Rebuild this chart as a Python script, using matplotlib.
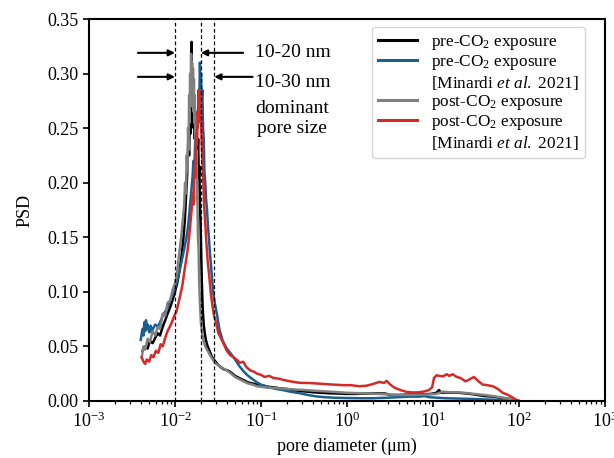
import matplotlib
matplotlib.use("Agg")
import matplotlib.pyplot as plt
from matplotlib.lines import Line2D

plt.rcParams['font.family'] = ['Liberation Serif', 'DejaVu Serif']
plt.rcParams['mathtext.fontset'] = 'custom'
plt.rcParams['mathtext.rm'] = 'Liberation Serif'
plt.rcParams['mathtext.it'] = 'Liberation Serif:italic'
plt.rcParams['mathtext.bf'] = 'Liberation Serif:bold'
plt.rcParams['axes.unicode_minus'] = False

# pre-CO2 exposure (this work)
pre_d = [0.0042, 0.0045, 0.0048, 0.0051, 0.0055, 0.0059, 0.0063, 0.0067, 0.0072, 0.0077,
         0.0082, 0.0088, 0.0094, 0.0100, 0.0106, 0.0112, 0.0118, 0.0124, 0.0130, 0.0135,
         0.0140, 0.0143, 0.0146, 0.0149, 0.0151, 0.0153, 0.0155, 0.0156, 0.0157, 0.0159,
         0.0161, 0.0163, 0.0165, 0.0167, 0.0170, 0.0173, 0.0176, 0.0179, 0.0182, 0.0186,
         0.0189, 0.0192, 0.0195, 0.0198, 0.0201, 0.0205, 0.0210, 0.0216, 0.0222, 0.0230,
         0.0240, 0.0255, 0.027, 0.029, 0.031, 0.034, 0.037, 0.041, 0.045, 0.050,
         0.056, 0.063, 0.071, 0.080, 0.090, 0.10, 0.12, 0.14, 0.17, 0.20,
         0.25, 0.30, 0.40, 0.50, 0.65, 0.80, 1.0, 1.3, 1.7, 2.2,
         2.8, 3.2, 4.0, 5.0, 6.5, 8.0, 9.5, 11.0, 11.8, 12.4,
         14, 17, 20, 25, 30, 40, 50, 60, 75, 90, 100]
pre_psd = [0.046, 0.050, 0.048, 0.055, 0.053, 0.058, 0.062, 0.060, 0.068, 0.074,
           0.080, 0.086, 0.093, 0.100, 0.108, 0.118, 0.130, 0.145, 0.165, 0.190,
           0.215, 0.240, 0.225, 0.265, 0.245, 0.290, 0.260, 0.329, 0.275, 0.290,
           0.255, 0.285, 0.250, 0.275, 0.240, 0.265, 0.230, 0.250, 0.225, 0.240,
           0.205, 0.215, 0.180, 0.165, 0.140, 0.110, 0.085, 0.070, 0.062, 0.055,
           0.050, 0.045, 0.040, 0.037, 0.034, 0.031, 0.029, 0.028, 0.026, 0.023,
           0.021, 0.019, 0.017, 0.016, 0.015, 0.0145, 0.013, 0.0125, 0.0115, 0.011,
           0.0095, 0.009, 0.008, 0.0075, 0.007, 0.0068, 0.0065, 0.0065, 0.0068, 0.007,
           0.0068, 0.0055, 0.0055, 0.0058, 0.006, 0.0062, 0.0065, 0.0075, 0.010, 0.0075,
           0.0078, 0.0076, 0.0075, 0.0068, 0.006, 0.0045, 0.004, 0.003, 0.002, 0.001, 0.0]

# pre-CO2 exposure [Minardi et al. 2021]
pre_min_d = [0.0040, 0.0041, 0.0042, 0.0043, 0.0044, 0.0045, 0.0046, 0.0047, 0.0048, 0.0050,
             0.0052, 0.0054, 0.0056, 0.0059, 0.0063, 0.0067, 0.0072, 0.0077, 0.0082, 0.0088,
             0.0094, 0.0100, 0.0106, 0.0112, 0.0118, 0.0124, 0.0130, 0.0136, 0.0142, 0.0148,
             0.0154, 0.0160, 0.0164, 0.0168, 0.0172, 0.0176, 0.0180, 0.0184, 0.0188, 0.0192,
             0.0195, 0.0198, 0.0201, 0.0204, 0.0208, 0.0212, 0.0216, 0.0220, 0.0225, 0.0230,
             0.0236, 0.0242, 0.0248, 0.0255, 0.0262, 0.0270, 0.0278, 0.029, 0.031, 0.033,
             0.036, 0.040, 0.045, 0.050, 0.056, 0.063, 0.071, 0.080, 0.090, 0.10,
             0.12, 0.15, 0.18, 0.22, 0.28, 0.35, 0.44, 0.55, 0.70, 1.0,
             1.5, 2.0, 3.0, 4.0, 5.5, 7.0, 8.0, 9.0, 11, 14,
             20, 30, 50, 75, 100]
pre_min_psd = [0.056, 0.062, 0.066, 0.060, 0.072, 0.064, 0.074, 0.066, 0.070, 0.063,
               0.069, 0.062, 0.067, 0.070, 0.068, 0.072, 0.078, 0.082, 0.086, 0.092,
               0.098, 0.104, 0.110, 0.118, 0.126, 0.134, 0.142, 0.150, 0.160, 0.175,
               0.190, 0.205, 0.220, 0.212, 0.240, 0.232, 0.260, 0.250, 0.285, 0.275,
               0.310, 0.290, 0.300, 0.275, 0.285, 0.250, 0.240, 0.210, 0.200, 0.185,
               0.175, 0.160, 0.150, 0.135, 0.125, 0.112, 0.100, 0.090, 0.078, 0.065,
               0.055, 0.048, 0.043, 0.038, 0.032, 0.027, 0.023, 0.020, 0.017, 0.015,
               0.013, 0.011, 0.010, 0.0085, 0.0072, 0.0055, 0.0042, 0.0035, 0.003, 0.0027,
               0.0025, 0.0025, 0.003, 0.0035, 0.004, 0.004, 0.0045, 0.0035, 0.003, 0.0025,
               0.0022, 0.0018, 0.0012, 0.0006, 0.0]

# post-CO2 exposure (this work)
post_d = [0.0041, 0.0043, 0.0045, 0.0048, 0.0051, 0.0055, 0.0059, 0.0063, 0.0067, 0.0072,
          0.0077, 0.0082, 0.0088, 0.0094, 0.0100, 0.0106, 0.0112, 0.0118, 0.0124, 0.0128,
          0.0131, 0.0134, 0.0137, 0.0140, 0.0142, 0.0144, 0.0146, 0.0148, 0.0150, 0.0152,
          0.0154, 0.0156, 0.0158, 0.0160, 0.0162, 0.0164, 0.0166, 0.0168, 0.0170, 0.0172,
          0.0174, 0.0176, 0.0178, 0.0180, 0.0182, 0.0185, 0.0188, 0.0191, 0.0195, 0.0200,
          0.0207, 0.0215, 0.0225, 0.0240, 0.026, 0.028, 0.030, 0.033, 0.036, 0.040,
          0.045, 0.050, 0.056, 0.063, 0.071, 0.080, 0.090, 0.10, 0.12, 0.14,
          0.17, 0.20, 0.25, 0.30, 0.40, 0.50, 0.65, 0.80, 1.0, 1.5,
          2.0, 3.0, 4.0, 5.5, 7.0, 9.0, 11, 13, 16, 20,
          25, 30, 40, 50, 60, 75, 90, 100]
post_psd = [0.040, 0.050, 0.047, 0.057, 0.054, 0.064, 0.060, 0.068, 0.066, 0.080,
            0.078, 0.090, 0.092, 0.102, 0.108, 0.118, 0.135, 0.150, 0.168, 0.180,
            0.200, 0.190, 0.225, 0.210, 0.250, 0.230, 0.280, 0.255, 0.300, 0.270,
            0.318, 0.285, 0.310, 0.275, 0.305, 0.265, 0.295, 0.255, 0.280, 0.240,
            0.260, 0.215, 0.230, 0.185, 0.190, 0.150, 0.140, 0.110, 0.090, 0.072,
            0.062, 0.055, 0.050, 0.046, 0.041, 0.037, 0.034, 0.032, 0.030, 0.028,
            0.025, 0.022, 0.020, 0.018, 0.016, 0.015, 0.0135, 0.013, 0.012, 0.012,
            0.0115, 0.011, 0.0105, 0.0102, 0.0095, 0.009, 0.0085, 0.008, 0.0075, 0.007,
            0.0068, 0.006, 0.0055, 0.0055, 0.0058, 0.006, 0.0065, 0.0085, 0.008, 0.0078,
            0.0072, 0.0065, 0.0055, 0.0045, 0.0035, 0.0022, 0.001, 0.0]

# post-CO2 exposure [Minardi et al. 2021]
post_min_d = [0.0041, 0.0043, 0.0045, 0.0047, 0.0050, 0.0053, 0.0056, 0.0060, 0.0064, 0.0068,
              0.0072, 0.0077, 0.0082, 0.0087, 0.0092, 0.0098, 0.0104, 0.0110, 0.0116, 0.0122,
              0.0128, 0.0134, 0.0140, 0.0146, 0.0152, 0.0156, 0.0160, 0.0164, 0.0168, 0.0172,
              0.0176, 0.0180, 0.0184, 0.0188, 0.0191, 0.0194, 0.0197, 0.0201, 0.0206, 0.0210,
              0.0214, 0.0218, 0.0224, 0.0232, 0.0240, 0.0250, 0.0260, 0.0272, 0.0285, 0.030,
              0.032, 0.034, 0.037, 0.040, 0.044, 0.048, 0.052, 0.057, 0.062, 0.068,
              0.075, 0.082, 0.090, 0.10, 0.11, 0.125, 0.14, 0.16, 0.19, 0.22,
              0.26, 0.30, 0.36, 0.45, 0.55, 0.70, 0.90, 1.1, 1.4, 1.7,
              2.0, 2.4, 2.7, 2.9, 3.2, 3.6, 4.2, 5.0, 6.0, 7.0,
              8.0, 9.0, 9.8, 10.3, 11.0, 12.0, 13.0, 14.5, 15.5, 17.0,
              19, 21, 24, 27, 30, 34, 38, 43, 50, 57,
              65, 75, 85, 95, 100]
post_min_psd = [0.040, 0.036, 0.034, 0.038, 0.036, 0.042, 0.040, 0.046, 0.044, 0.052,
                0.050, 0.058, 0.064, 0.068, 0.072, 0.078, 0.082, 0.090, 0.098, 0.106,
                0.118, 0.128, 0.138, 0.150, 0.165, 0.175, 0.190, 0.180, 0.215, 0.205,
                0.245, 0.235, 0.265, 0.255, 0.285, 0.270, 0.280, 0.255, 0.230, 0.215,
                0.200, 0.180, 0.165, 0.145, 0.128, 0.115, 0.100, 0.088, 0.078, 0.072,
                0.062, 0.058, 0.052, 0.046, 0.042, 0.040, 0.038, 0.035, 0.036, 0.031,
                0.028, 0.027, 0.025, 0.024, 0.022, 0.023, 0.021, 0.0205, 0.019, 0.018,
                0.017, 0.0165, 0.0165, 0.016, 0.0155, 0.015, 0.0145, 0.0145, 0.0135, 0.014,
                0.0155, 0.0175, 0.0165, 0.0185, 0.015, 0.012, 0.010, 0.0082, 0.0078, 0.008,
                0.0088, 0.0100, 0.0125, 0.021, 0.0235, 0.023, 0.0225, 0.0245, 0.023, 0.0245,
                0.022, 0.021, 0.018, 0.020, 0.022, 0.018, 0.015, 0.0145, 0.0135, 0.011,
                0.0075, 0.0055, 0.003, 0.0008, 0.0]

dominant_bounds = [0.01, 0.02, 0.0286]

fig = plt.figure(figsize=(6.14, 4.58), dpi=100)
ax = fig.add_axes([0.145, 0.1245, 0.840, 0.834])

ax.plot(pre_d, pre_psd, color='black', lw=1.8)
ax.plot(pre_min_d, pre_min_psd, color='#1b5f8f', lw=1.8)
ax.plot(post_d, post_psd, color='#808080', lw=1.8)
ax.plot(post_min_d, post_min_psd, color='#d42a2a', lw=1.8)

for b in dominant_bounds:
    ax.axvline(b, color='black', lw=0.9, ls=(0, (3, 2)))

# arrows marking the dominant pore size range
arrow = dict(arrowstyle='-|>', color='black', lw=1.5, mutation_scale=9, shrinkA=0, shrinkB=0)
ax.annotate('', xy=(0.01, 0.319), xytext=(0.0037, 0.319), arrowprops=arrow)
ax.annotate('', xy=(0.02, 0.319), xytext=(0.062, 0.319), arrowprops=arrow)
ax.annotate('', xy=(0.01, 0.297), xytext=(0.0037, 0.297), arrowprops=arrow)
ax.annotate('', xy=(0.0286, 0.297), xytext=(0.080, 0.297), arrowprops=arrow)
ax.text(0.085, 0.319, '10-20 nm', fontsize=14, va='center', ha='left')
ax.text(0.085, 0.292, '10-30 nm', fontsize=14, va='center', ha='left')
ax.text(0.23, 0.259, 'dominant\npore size', fontsize=14, va='center', ha='center',
        linespacing=1.2)

ax.set_xscale('log')
ax.set_xlim(1e-3, 1e3)
ax.set_ylim(0, 0.35)
ax.set_yticks([0.0, 0.05, 0.10, 0.15, 0.20, 0.25, 0.30, 0.35])
ax.set_yticklabels(['0.00', '0.05', '0.10', '0.15', '0.20', '0.25', '0.30', '0.35'])
ax.tick_params(axis='both', which='major', labelsize=13, length=4, width=1.2, direction='out')
ax.tick_params(axis='x', which='minor', length=2.5, width=0.9, direction='out')
for s in ax.spines.values():
    s.set_linewidth(1.5)
ax.set_xlabel('pore diameter (μm)', fontsize=13, labelpad=5)
ax.set_ylabel('PSD', fontsize=13, labelpad=10)

handles = [Line2D([], [], color='black', lw=2.2),
           Line2D([], [], color='#1b5f8f', lw=2.2),
           Line2D([], [], color='none'),
           Line2D([], [], color='#808080', lw=2.2),
           Line2D([], [], color='#d42a2a', lw=2.2),
           Line2D([], [], color='none')]
labels = ['pre-CO$_2$ exposure',
          'pre-CO$_2$ exposure',
          '[Minardi $\\it{et}$ $\\it{al.}$ 2021]',
          'post-CO$_2$ exposure',
          'post-CO$_2$ exposure',
          '[Minardi $\\it{et}$ $\\it{al.}$ 2021]']
ax.legend(handles, labels, loc='upper right', bbox_to_anchor=(0.972, 0.993), fontsize=12.4,
          labelspacing=0.08, handlelength=2.3, handletextpad=0.8, borderpad=0.35,
          borderaxespad=0.3, frameon=True, fancybox=True, edgecolor='#cccccc')

plt.savefig('out.png', dpi=100)
